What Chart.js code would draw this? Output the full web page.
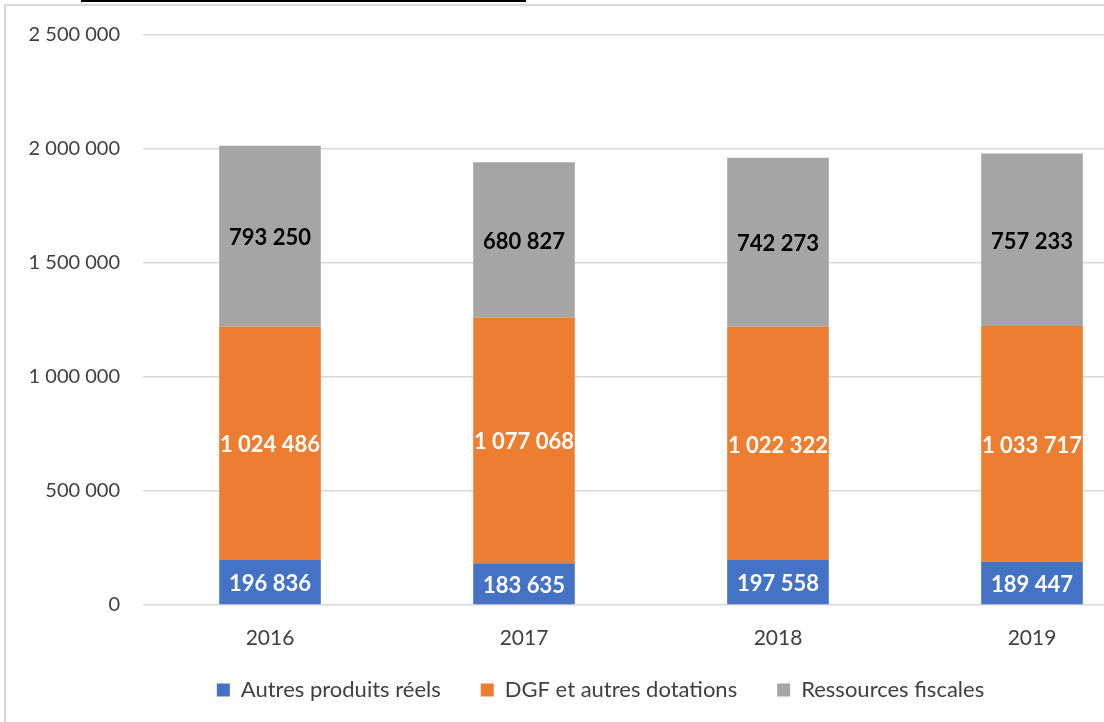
<!DOCTYPE html>
<html>
<head>
<meta charset="utf-8">
<script src="https://cdn.jsdelivr.net/npm/chart.js@4/dist/chart.umd.min.js"></script>
<style>
  html, body { margin: 0; padding: 0; background: #fff; }
  #wrap { position: relative; width: 1104px; height: 722px; overflow: hidden; background: #fff; }
  #frame { position: absolute; left: 4px; top: 4px; right: -10px; bottom: -10px;
           border-left: 2px solid #d9d9d9; border-top: 2px solid #d9d9d9; }
  #topline { position: absolute; left: 81px; top: 0; width: 445px; height: 2px; background: #000; }
  #box { position: absolute; left: 0; top: 0; width: 1202px; height: 722px; }
</style>
</head>
<body>
<div id="wrap">
  <div id="frame"></div>
  <div id="topline"></div>
  <div id="box"><canvas id="chart"></canvas></div>
</div>
<script>
const years = ['2016', '2017', '2018', '2019'];
const autresProduits = [196836, 183635, 197558, 189447];
const dgfDotations = [1024486, 1077068, 1022322, 1033717];
const ressourcesFiscales = [793250, 680827, 742273, 757233];
const yTicks = [0, 500000, 1000000, 1500000, 2000000, 2500000];

function fmt(v) {
    return String(v).replace(/\B(?=(\d{3})+(?!\d))/g, ' ');
}

// labels au milieu de chaque segment
const barLabels = {
    id: 'barLabels',
    afterDatasetsDraw(chart) {
        const ctx = chart.ctx;
        ctx.save();
        ctx.font = 'bold 22px Lato';
        ctx.textAlign = 'center';
        ctx.textBaseline = 'middle';
        chart.data.datasets.forEach((ds, i) => {
            const meta = chart.getDatasetMeta(i);
            ctx.fillStyle = ds.labelColor;
            meta.data.forEach((bar, j) => {
                const p = bar.getProps(['x', 'y', 'base'], true);
                ctx.fillText(fmt(ds.data[j]), p.x, (p.y + p.base) / 2 + 2);
            });
        });
        ctx.restore();
    }
};

// legende : hauteur fixe et petit decalage
const legendFix = {
    id: 'legendFix',
    afterInit(chart) {
        const leg = chart.legend;
        if (!leg) return;
        const fit = leg.fit;
        leg.fit = function () {
            fit.call(this);
            this.height = 67;
        };
        const draw = leg.draw;
        leg.draw = function () {
            const ctx = this.ctx;
            ctx.save();
            ctx.translate(11, -16);
            draw.call(this);
            ctx.restore();
        };
    }
};

const element = document.getElementById('chart');
const chart = new Chart(element, {
    type: 'bar',
    data: {
        labels: years,
        datasets: [
            {
                label: 'Autres produits réels',
                data: autresProduits,
                backgroundColor: '#4472C4',
                labelColor: '#ffffff'
            },
            {
                label: 'DGF et autres dotations',
                data: dgfDotations,
                backgroundColor: '#ED7D31',
                labelColor: '#ffffff'
            },
            {
                label: 'Ressources fiscales',
                data: ressourcesFiscales,
                backgroundColor: '#A5A5A5',
                labelColor: '#000000'
            }
        ]
    },
    options: {
        responsive: true,
        maintainAspectRatio: false,
        animation: false,
        layout: { padding: { left: 20, top: 34, right: 43, bottom: 0 } },
        datasets: {
            bar: { categoryPercentage: 1.0, barPercentage: 0.4 }
        },
        plugins: {
            tooltip: { enabled: false },
            legend: {
                position: 'bottom',
                labels: {
                    boxWidth: 13,
                    boxHeight: 13,
                    padding: 40,
                    color: '#404040',
                    font: { family: 'Lato', size: 22 }
                }
            }
        },
        scales: {
            x: {
                stacked: true,
                grid: { display: false },
                border: { display: false },
                ticks: { padding: 13, color: '#404040', font: { family: 'Lato', size: 21 } },
                afterFit(scale) { scale.height = 50; }
            },
            y: {
                stacked: true,
                min: 0,
                max: 2500000,
                afterBuildTicks(scale) { scale.ticks = yTicks.map(v => ({ value: v })); },
                grid: { color: '#d9d9d9', lineWidth: 1.5, drawTicks: false },
                border: { display: false },
                ticks: {
                    padding: 23,
                    color: '#404040',
                    font: { family: 'Lato', size: 20 },
                    callback: (v) => fmt(v)
                },
                afterFit(scale) { scale.width = 123; }
            }
        }
    },
    plugins: [barLabels, legendFix]
});
</script>
</body>
</html>
